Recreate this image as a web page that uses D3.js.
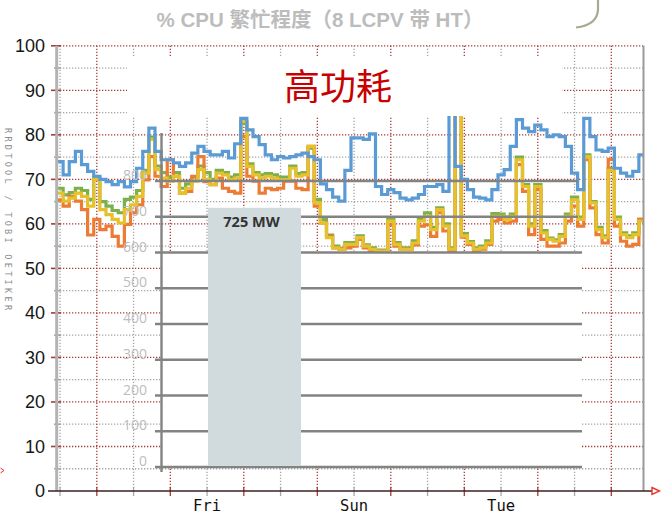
<!DOCTYPE html>
<html>
<head>
<meta charset="utf-8">
<script src="https://cdn.jsdelivr.net/npm/d3@7"></script>
<style>
  html, body { margin: 0; padding: 0; background: #fff; }
  svg { display: block; }
</style>
</head>
<body>
<div id="chart"></div>
<script>
// ---- data ----
const TITLE = "% CPU 繁忙程度（8 LCPV 带 HT）";
const NOTE = "高功耗";
const CREDIT = "RRDTOOL / TOBI OETIKER";
const START = new Date(2023, 4, 31, 11); // Wed 11:00, one sample every 2 h
const STEP_HOURS = 2;
const cpuTicks = [0, 10, 20, 30, 40, 50, 60, 70, 80, 90, 100];
const dayLabels = ["Fri", "Sun", "Tue"];

const cpuBlue = [74, 71, 74, 76.3, 73.3, 71.8, 70.7, 70, 69.5, 68.8,
  69.5, 68.3, 69.5, 72.5, 76.3, 81.5, 76.3, 74.4, 74.4, 73.7,
  72.9, 73.7, 75.9, 77.4, 76.3, 75.5, 75.5, 76.3, 74.8, 78,
  83.7, 81.1, 79.6, 77.8, 75.5, 74.4, 75.1, 74.8, 75.1, 75.5,
  75.9, 75.1, 74.4, 69, 67.7, 66, 65.1, 72, 79.3, 79.3,
  79, 80.2, 68.4, 66.6, 67.7, 67, 65.8, 65.4, 65.8, 66.6,
  68.4, 68.4, 68.8, 67.3, 85, 72.9, 70, 67.7, 66, 65.8,
  65.4, 67.7, 71, 72.2, 77.4, 83.4, 81.5, 80.7, 82.2, 81.1,
  79.6, 80, 79.6, 77.4, 71.4, 67.7, 83.7, 79.6, 76.6, 76.3,
  77, 72.5, 71.4, 70.7, 71.8, 75.5, 77.5];

const cpuYellow = [66.9, 65.1, 65.8, 66.9, 66.2, 64, 70, 63.2, 62.1, 61,
  60.2, 63.2, 64.3, 66.2, 71.4, 79, 72.2, 70.3, 69.6, 70.7,
  66.9, 68, 69.6, 72.2, 70,
  68.8, 71.4, 71, 69.9, 70.3, 83, 72.9, 71, 70.3, 70.7,
  70.3, 69.9, 69.9, 72.5, 70.7, 71, 77.4, 64.7, 60.2, 56.9,
  54.6, 54.3, 55.4, 55.4,
  56.9, 55, 54.3, 53.9, 53.9, 60.6, 55.4, 54.3, 54.3, 55.7,
  60.6, 61.7, 58.7, 63.2, 59.5, 54.3, 95, 57.3, 55.7, 54.3,
  54.6, 55.7, 61.7, 61.7,
  61, 61.7, 74.4, 68.4, 59.5, 68.4, 58, 56.5, 56.1, 57.2,
  61.7, 65.4, 61, 75.1, 64.7, 58.7, 56.9, 72, 61, 57.6,
  56.9, 57.6, 60.6, 59.9];

const cpuOrange = [65.4, 64, 66.2, 65.1, 63.2, 57.5, 61, 58.7, 59.5, 57.2,
  55, 59.9, 62.5, 64.3, 69.9, 75.1, 70.7, 68.4, 74.4, 70.7,
  66.9, 67.3, 70.7, 75.1, 69.5,
  68.8, 70.3, 68, 67.3, 66.9, 79.6, 70.7, 69.6, 66.9, 68,
  67.7, 68, 69.6, 69.6, 68, 67.7, 77.4, 64, 60.2, 57.2,
  54.6, 54.3, 54.6, 55,
  56.5, 54.6, 54, 53.9, 53.9, 59.8, 55, 54.3, 54.3, 55.3,
  59.5, 59.8, 57.2, 62.5, 58.4, 54, 95, 57, 55.4, 54,
  54.3, 55.4, 60.6, 61,
  60.2, 60.6, 73.3, 67.3, 57.6, 67.7, 56.5, 55, 55, 55.7,
  60.6, 64, 59.5, 74.4, 63.6, 57.6, 55.7, 74.5, 59.5, 56.1,
  55, 55.4, 61, 64];

const cpuGreen = [68, 66.5, 67, 68, 67.5, 65.5, 70.5, 65, 64, 63,
  62.5, 65.5, 66, 67.5, 72, 79.5, 73, 71.5, 70.5, 71.5,
  68, 69, 70.5, 73, 71.5,
  70, 72, 71.5, 70.5, 71, 82.5, 73.5, 71.5, 71, 71.3,
  71, 70.5, 70.5, 73, 71.3, 71.5, 77, 65.5, 61, 57.5,
  55, 54.5, 55.8, 55.8,
  57.3, 55.3, 54.6, 54.1, 54.1, 61, 55.8, 54.6, 54.6, 56.2,
  61.2, 62.5, 59.2, 63.6, 60, 54.6, 95, 57.8, 56, 54.6,
  55, 56.2, 62.3, 62.2,
  61.5, 62.2, 75, 68.8, 60, 68.8, 58.5, 56.8, 56.4, 57.6,
  62.2, 66, 61.5, 75.5, 65, 59.2, 57.3, 72.5, 61.5, 58,
  57.3, 58, 61, 60.3];

// overlaid bar panel
const mwTicks = [0, 100, 200, 300, 400, 500, 600, 700, 800];
const barCats = ["high"];
const barValues = [725];
const barUnit = "MW";

// ---- setup ----
const W = 662, H = 515;
const PLOT = { left: 57, right: 643.5, top: 45.8, bottom: 491 };

const svg = d3.select("#chart").append("svg")
  .attr("width", W).attr("height", H)
  .style("font-family", "'Liberation Sans', 'Noto Sans CJK SC', sans-serif");

const x = d3.scaleTime()
  .domain([START, d3.timeHour.offset(START, 8 * 24)])
  .range([PLOT.left, 645]);
const y = d3.scaleLinear().domain([0, 100]).range([PLOT.bottom, PLOT.top]);

const series = [
  { name: "green", color: "#7cb04a", values: cpuGreen },
  { name: "orange", color: "#ec7c34", values: cpuOrange },
  { name: "yellow", color: "#e6c12c", values: cpuYellow },
  { name: "blue", color: "#5b9bd5", values: cpuBlue }
];
const timeAt = (i) => d3.timeHour.offset(START, i * STEP_HOURS);

// ---- rrd grid ----
const RED = "#a83a3a", GREY = "#a6a6a6";
const grid = svg.append("g");

const hLevels = d3.range(5, 101, 5);
grid.selectAll("line.h").data(hLevels).join("line")
  .attr("class", "h")
  .attr("x1", PLOT.left).attr("x2", PLOT.right)
  .attr("y1", d => y(d)).attr("y2", d => y(d))
  .attr("stroke", d => d % 10 === 0 ? RED : GREY)
  .attr("stroke-width", 1.3)
  .attr("stroke-dasharray", "1.3,1.7");

const xEnd = x.invert(PLOT.right);
const vTimes = d3.timeHour.every(12).range(START, xEnd);
grid.selectAll("line.v").data(vTimes).join("line")
  .attr("class", "v")
  .attr("x1", d => x(d)).attr("x2", d => x(d))
  .attr("y1", PLOT.top).attr("y2", PLOT.bottom)
  .attr("stroke", d => d.getHours() === 0 ? RED : GREY)
  .attr("stroke-width", 1.3)
  .attr("stroke-dasharray", "1.3,1.7");

// x ticks under the axis
grid.selectAll("line.xt").data(vTimes).join("line")
  .attr("class", "xt")
  .attr("x1", d => x(d)).attr("x2", d => x(d))
  .attr("y1", 487).attr("y2", 496)
  .attr("stroke", d => d.getHours() === 0 ? RED : GREY)
  .attr("stroke-width", 1.3);

// y ticks on the left
grid.selectAll("line.yt").data(hLevels).join("line")
  .attr("class", "yt")
  .attr("x1", d => d % 10 === 0 ? 51 : 54).attr("x2", 61)
  .attr("y1", d => y(d)).attr("y2", d => y(d))
  .attr("stroke", d => d % 10 === 0 ? RED : GREY)
  .attr("stroke-width", 1.6);

// ---- cpu lines ----
svg.append("clipPath").attr("id", "plotclip")
  .append("rect")
  .attr("x", PLOT.left).attr("y", PLOT.top)
  .attr("width", PLOT.right - PLOT.left).attr("height", PLOT.bottom - PLOT.top);

const line = d3.line()
  .x((d, i) => x(timeAt(i)))
  .y(d => y(d))
  .curve(d3.curveStepAfter);

svg.append("g").attr("clip-path", "url(#plotclip)")
  .selectAll("path").data(series).join("path")
  .attr("d", d => line(d.values))
  .attr("fill", "none")
  .attr("stroke", d => d.color)
  .attr("stroke-width", 3.2)
  .attr("stroke-linejoin", "miter");

// borders and axis
svg.append("line")
  .attr("x1", 56.7).attr("x2", 56.7).attr("y1", PLOT.top).attr("y2", PLOT.bottom)
  .attr("stroke", "#b3b3b3").attr("stroke-width", 3);
svg.append("line")
  .attr("x1", PLOT.right).attr("x2", PLOT.right).attr("y1", PLOT.top).attr("y2", PLOT.bottom)
  .attr("stroke", "#9a9a9a").attr("stroke-width", 2);
svg.append("line")
  .attr("x1", 48).attr("x2", 652).attr("y1", PLOT.bottom).attr("y2", PLOT.bottom)
  .attr("stroke", "#3a2222").attr("stroke-width", 1.6);
svg.append("path")
  .attr("d", "M652,487.5L659.5,491L652,494.5Z")
  .attr("fill", "#fff").attr("stroke", "#e8332f").attr("stroke-width", 1.4);
svg.append("path")
  .attr("d", "M0.5,468L4,470.5L0.5,473")
  .attr("fill", "none").attr("stroke", "#e8332f").attr("stroke-width", 1);

// y labels
svg.append("g").selectAll("text").data(cpuTicks).join("text")
  .attr("x", 45).attr("y", d => y(d)).attr("dy", "0.36em")
  .attr("text-anchor", "end")
  .attr("font-size", 18).attr("fill", "#161616")
  .text(d => d);

// day labels at noon
const labelTimes = vTimes.filter(d => d.getHours() === 12 && dayLabels.includes(d3.timeFormat("%a")(d)));
svg.append("g").selectAll("text").data(labelTimes).join("text")
  .attr("x", d => x(d)).attr("y", 511)
  .attr("text-anchor", "middle")
  .attr("font-family", "'DejaVu Sans Mono', monospace")
  .attr("font-size", 15.5).attr("fill", "#111")
  .text(d => d3.timeFormat("%a")(d));

// credit, rotated
svg.append("text")
  .attr("transform", "translate(5,128) rotate(90)")
  .attr("font-family", "'DejaVu Sans Mono', monospace")
  .attr("font-size", 8.5).attr("fill", "#8c8c8c")
  .attr("textLength", 182).attr("lengthAdjust", "spacing")
  .text(CREDIT);

// ---- label box over the top of the plot ----
svg.append("rect")
  .attr("x", 127).attr("y", 56).attr("width", 435).attr("height", 60)
  .attr("fill", "#fff");
svg.append("text")
  .attr("x", 338).attr("y", 100)
  .attr("text-anchor", "middle")
  .attr("font-family", "'Noto Sans CJK SC', sans-serif")
  .attr("font-size", 36).attr("fill", "#c80000")
  .text(NOTE);

// title and the curve at the top right
svg.append("text")
  .attr("x", 320).attr("y", 27)
  .attr("text-anchor", "middle")
  .attr("font-size", 20.5).attr("font-weight", "bold").attr("fill", "#bcbcbc")
  .text(TITLE);
svg.append("path")
  .attr("d", "M598,0L598,10Q597,25 576,27.5")
  .attr("fill", "none").attr("stroke", "#a9a98e").attr("stroke-width", 2.2);

// ---- bar panel ----
const mw = d3.scaleLinear().domain([0, 800]).range([467, 181]);
const bx = d3.scaleBand().domain(barCats).range([208, 301]);
const panel = svg.append("g");

panel.append("rect")
  .attr("x", 161).attr("y", mw(600))
  .attr("width", 582 - 161).attr("height", mw(0) - mw(600))
  .attr("fill", "#fff");

panel.selectAll("line.g").data(mwTicks).join("line")
  .attr("class", "g")
  .attr("x1", 155).attr("x2", d => d >= 700 ? 578 : 582)
  .attr("y1", d => mw(d)).attr("y2", d => mw(d))
  .attr("stroke", "#838383").attr("stroke-width", 2.4);

panel.selectAll("rect.bar").data(barValues).join("rect")
  .attr("class", "bar")
  .attr("x", (d, i) => bx(barCats[i]))
  .attr("width", bx.bandwidth())
  .attr("y", d => mw(d))
  .attr("height", d => mw(0) - 1.2 - mw(d))
  .attr("fill", "#d1dadd");

panel.append("line")
  .attr("x1", 161.5).attr("x2", 161.5).attr("y1", 133).attr("y2", 472)
  .attr("stroke", "#838383").attr("stroke-width", 2.4);

panel.selectAll("text.t").data(mwTicks).join("text")
  .attr("class", "t")
  .attr("x", 147).attr("y", d => mw(d) - 1)
  .attr("text-anchor", "end")
  .attr("font-family", "'Open Sans', sans-serif")
  .attr("font-size", 14).attr("fill", "#bdbdbd")
  .text(d => d);

panel.selectAll("text.v").data(barValues).join("text")
  .attr("class", "v")
  .attr("x", (d, i) => bx(barCats[i]) + bx.bandwidth() / 2 - 3)
  .attr("y", d => mw(d) + 19.5)
  .attr("text-anchor", "middle")
  .attr("font-family", "'Open Sans', sans-serif")
  .attr("font-weight", "bold")
  .attr("font-size", 14.5).attr("fill", "#333")
  .text(d => `${d} ${barUnit}`);
</script>
</body>
</html>
